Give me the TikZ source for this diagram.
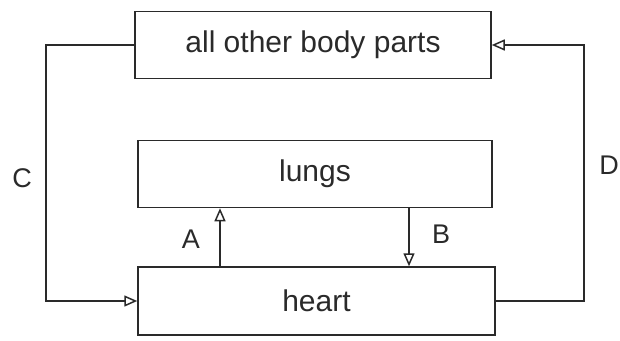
\documentclass[tikz,border=0pt]{standalone}
\usepackage{fontspec}
\setmainfont{Liberation Sans}
\usetikzlibrary{arrows.meta,calc}
\definecolor{ink}{HTML}{2A2A2A}
\begin{document}
\begin{tikzpicture}[x=1pt,y=-1pt,
  box/.style={draw=ink, line width=1.5pt, minimum width=#1, minimum height=67pt, inner sep=0pt, font=\fontsize{30}{36}\selectfont, text=ink},
  flow/.style={draw=ink, line width=1.5pt, -{Triangle[open, length=13pt, width=11pt]}},
  lab/.style={font=\fontsize{27}{32}\selectfont, text=ink, inner sep=0pt}]
\useasboundingbox (0,0) rectangle (620,340);
\node[box=356pt] (top) at (313,45) {all other body parts};
\node[box=354pt] (lungs) at (315,174) {lungs};
\node[box=357pt, minimum height=68pt] (heart) at (316.5,301) {heart};
\coordinate (cl) at (46,0);
\coordinate (dr) at (584,0);
\coordinate (ax) at (220,0);
\coordinate (bx) at (409,0);
\draw[flow] (top.west) -- (top.west -| cl) |- (heart.west);
\draw[flow] (heart.east) -- (heart.east -| dr) |- (top.east);
\draw[flow] (heart.north -| ax) -- (lungs.south -| ax);
\draw[flow] (lungs.south -| bx) -- (heart.north -| bx);
\node[lab] (C) at (22,178) {C};
\node[lab, anchor=east] (D) at (619,165) {D};
\node[lab] (A) at (191,239) {A};
\node[lab] (B) at (441,234) {B};
\end{tikzpicture}
\end{document}
